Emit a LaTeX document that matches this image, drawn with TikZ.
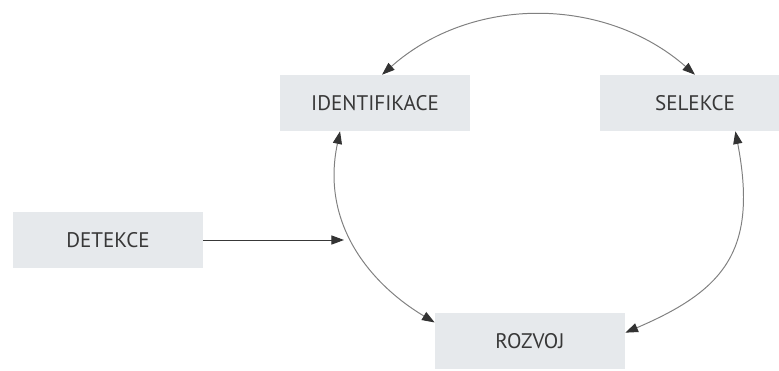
\documentclass[tikz,border=0pt]{standalone}
\usepackage{fontspec}
\setmainfont{PT Sans}
\usepackage{xcolor}
\usetikzlibrary{arrows.meta, positioning, calc}

\definecolor{boxgray}{HTML}{E6E9EC}
\definecolor{textgray}{HTML}{383838}
\definecolor{linegray}{HTML}{808080}

\tikzset{
    stage/.style={fill=boxgray, text=textgray, inner sep=0pt,
        minimum width=4.75cm, minimum height=1.4cm,
        font=\fontsize{15}{17}\selectfont},
    link/.style={draw=linegray, line width=0.7pt},
    >={Triangle[length=9pt, width=6.5pt, color=black!80]}
}

\begin{document}
\begin{tikzpicture}[x=0.025cm, y=-0.025cm]
            \useasboundingbox (0,0) rectangle (779,370);

            \node[stage] (detekce) at (108,240) {DETEKCE};
            \node[stage] (ident) at (375,103) {IDENTIFIKACE};
            \node[stage] (selekce) at (695,103) {SELEKCE};
            \node[stage] (rozvoj) at (530,341) {ROZVOJ};

            \coordinate (hit) at (344,240);% where the arrow meets the arc

            \draw[link, <->] (ident.76) .. controls (472,-5) and (605,-4) .. (selekce.north);% Top arc
            \draw[link, <->] (ident.-141) .. controls (320,225) and (372,285) .. (rozvoj.169);% Left arc
            \draw[link, <->] (selekce.-35) .. controls (758,250) and (725,290) .. (rozvoj.5);% Right arc

            \draw[link, draw=textgray, ->] (detekce.east) -- (hit);
        \end{tikzpicture}
\end{document}
